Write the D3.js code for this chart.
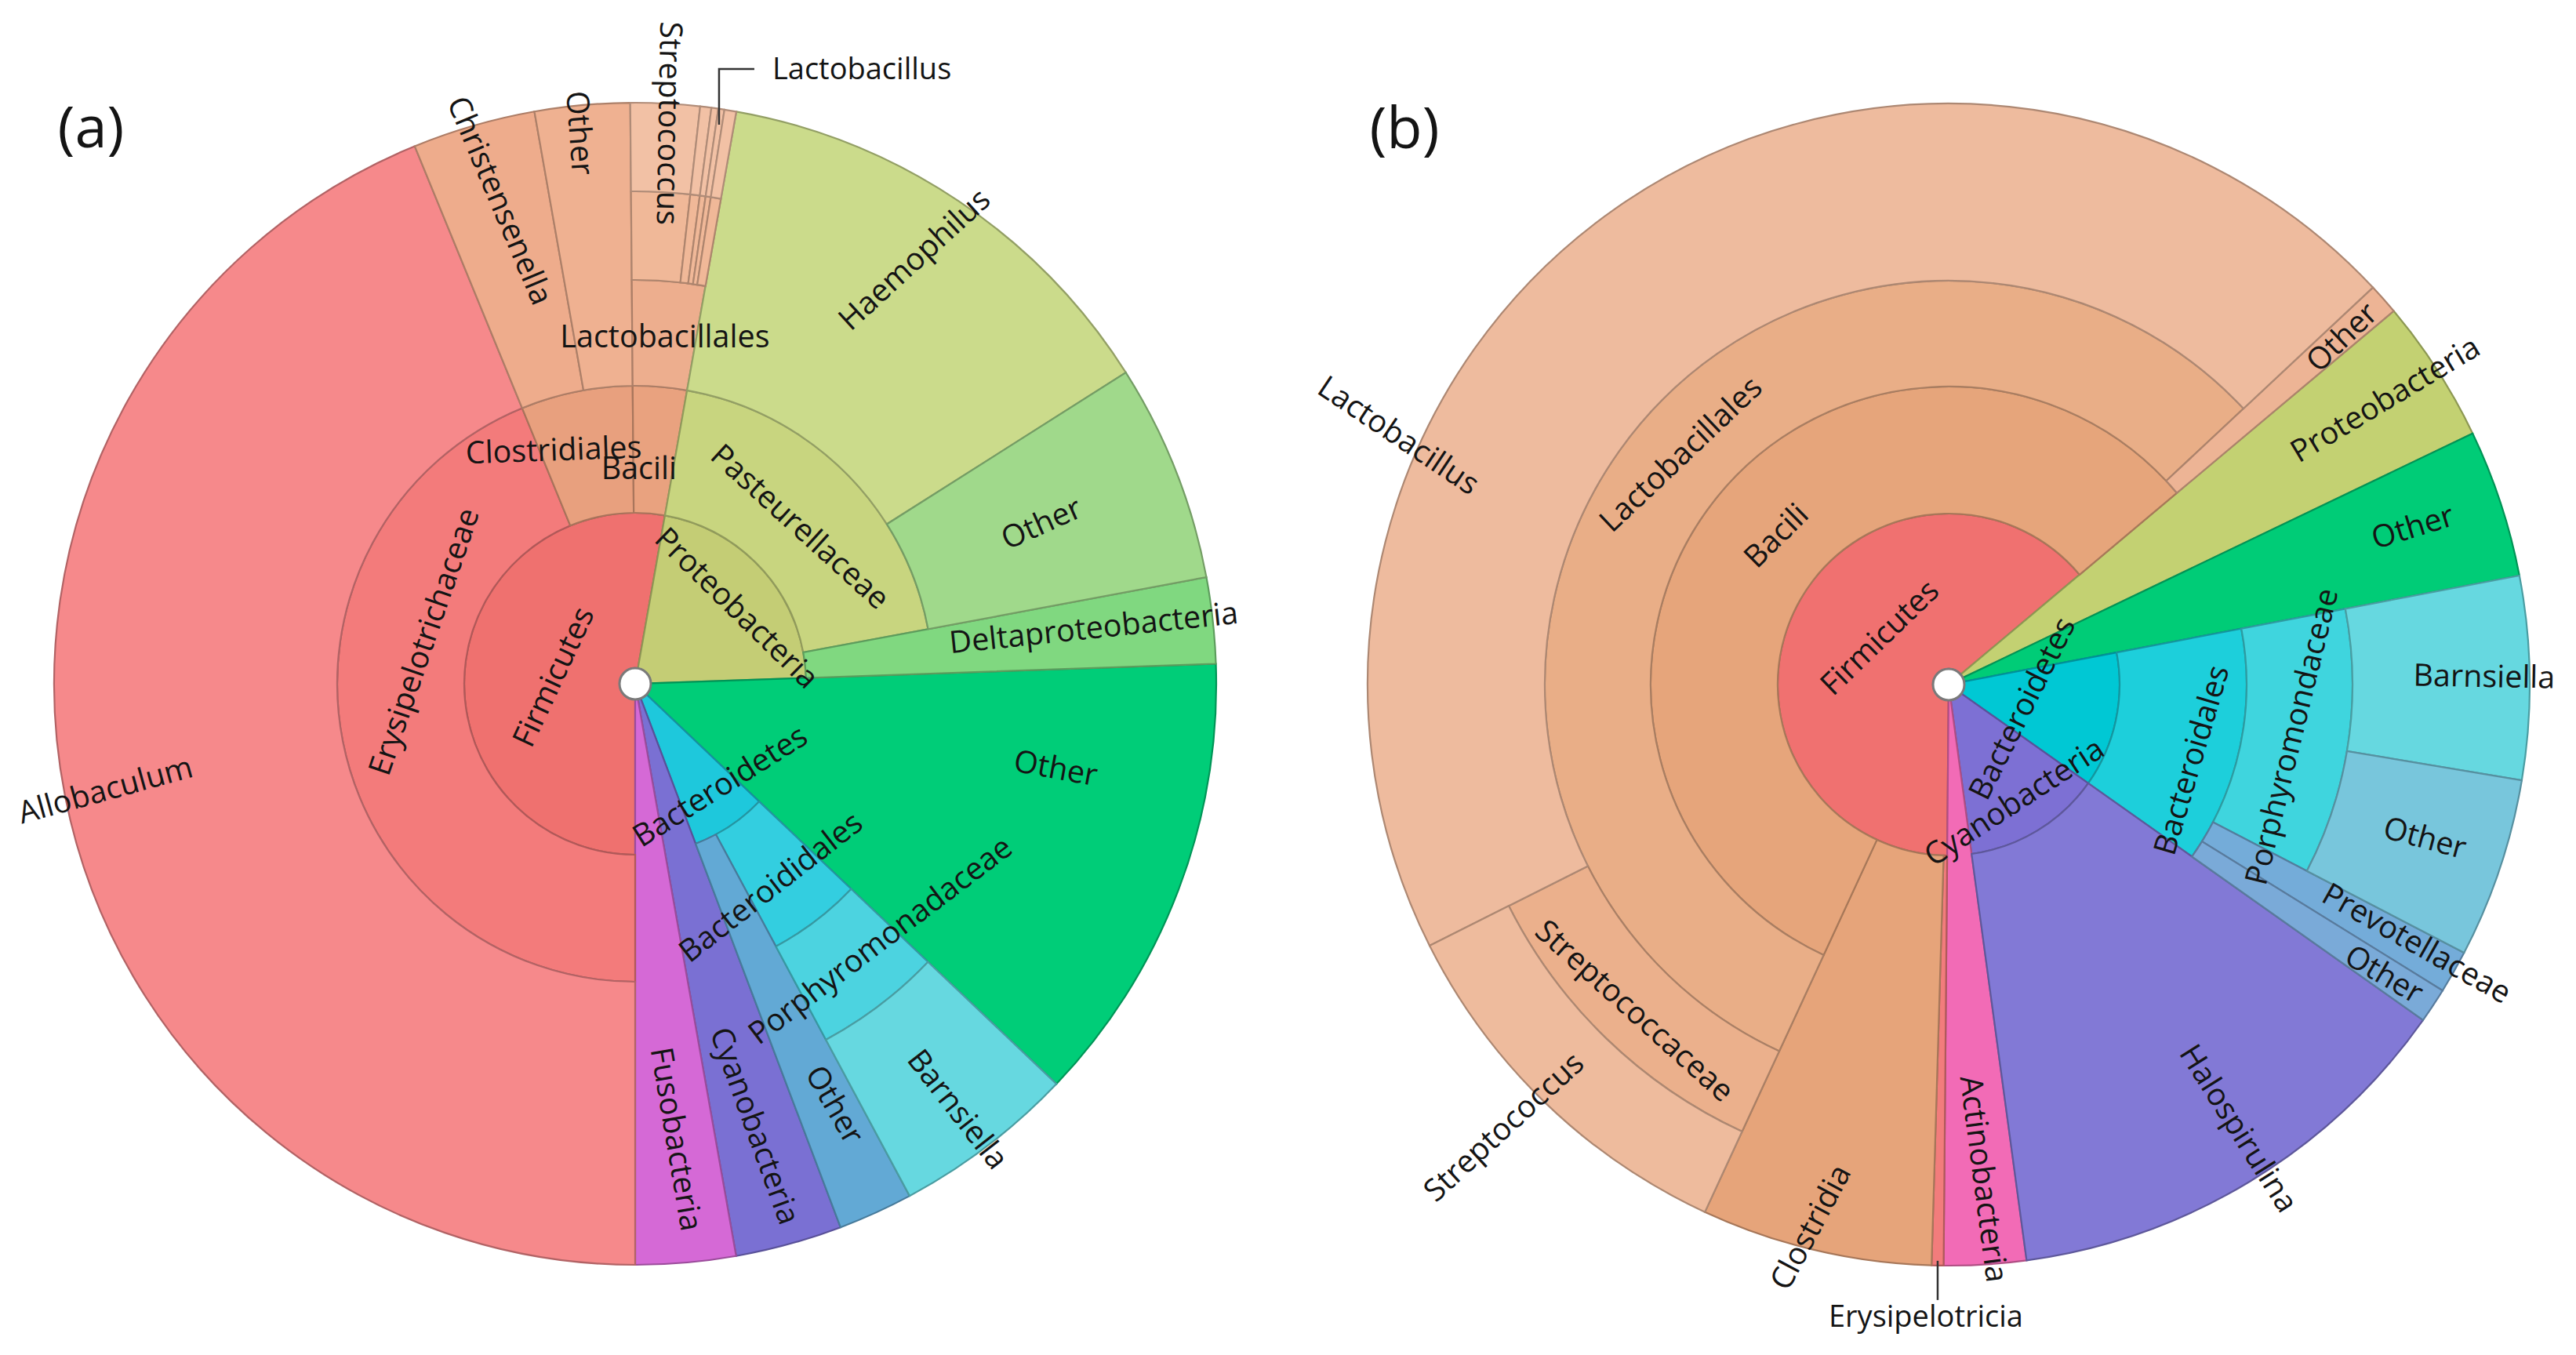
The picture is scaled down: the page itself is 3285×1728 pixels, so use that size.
<!DOCTYPE html>
<html>
<head>
<meta charset="utf-8">
<script src="https://cdn.jsdelivr.net/npm/d3@7"></script>
<style>
  body { margin: 0; background: #fff; }
  svg { display: block; }
  text { font-family: "Open Sans", sans-serif; fill: #141414; }
</style>
</head>
<body>
<div id="container"></div>
<script>
// taxonomy of each sample: id, parent, label, abundance (% of reads, leaves only)
// rows are listed clockwise, the way the wedges follow each other
const taxaA = [
  ["a", null, "", 0],
  ["aFirm", "a", "Firmicutes", 0],
  ["aEry", "aFirm", "Erysipelotrichaceae", 0],
  ["aAllo", "aEry", "Allobaculum", 43.81],
  ["aClos", "aFirm", "Clostridiales", 0],
  ["aChr", "aClos", "Christensenella", 3.42],
  ["aClosO", "aClos", "Other", 2.64],
  ["aBac", "aFirm", "Bacili", 0],
  ["aLacto", "aBac", "Lactobacillales", 0],
  ["aStrF", "aLacto", "", 0],
  ["aStr", "aStrF", "Streptococcus", 1.92],
  ["aF2", "aLacto", "", 0],
  ["aG2", "aF2", "", 0.31],
  ["aF3", "aLacto", "", 0],
  ["aG3", "aF3", "", 0.19],
  ["aLacF", "aLacto", "", 0],
  ["aLac", "aLacF", "Lactobacillus", 0.17],
  ["aF5", "aLacto", "", 0],
  ["aG5", "aF5", "", 0.33],
  ["aProt", "a", "Proteobacteria", 0],
  ["aPast", "aProt", "Pasteurellaceae", 0],
  ["aHaem", "aPast", "Haemophilus", 13.22],
  ["aPastO", "aPast", "Other", 6.06],
  ["aDelta", "aProt", "Deltaproteobacteria", 2.39],
  ["aOth", "a", "Other", 12.64],
  ["aBact", "a", "Bacteroidetes", 0],
  ["aBacd", "aBact", "Bacteroididales", 0],
  ["aPorph", "aBacd", "Porphyromonadaceae", 0],
  ["aBarn", "aPorph", "Barnsiella", 5.08],
  ["aBactO", "aBact", "Other", 2.08],
  ["aCyan", "a", "Cyanobacteria", 2.97],
  ["aFuso", "a", "Fusobacteria", 2.78]
];

const taxaB = [
  ["b", null, "", 0],
  ["bFirm", "b", "Firmicutes", 0],
  ["bEry", "bFirm", "Erysipelotricia", 0.33],
  ["bClos", "bFirm", "Clostridia", 6.42],
  ["bBac", "bFirm", "Bacili", 0],
  ["bLacto", "bBac", "Lactobacillales", 0],
  ["bStrF", "bLacto", "Streptococcaceae", 0],
  ["bStr", "bStrF", "Streptococcus", 10.69],
  ["bLac", "bLacto", "Lactobacillus", 45.44],
  ["bBacO", "bBac", "Other", 0.86],
  ["bProt", "b", "Proteobacteria", 4.0],
  ["bOth", "b", "Other", 4.11],
  ["bBact", "b", "Bacteroidetes", 0],
  ["bBacd", "bBact", "Bacteroidales", 0],
  ["bPorph", "bBacd", "Porphyromondaceae", 0],
  ["bBarn", "bPorph", "Barnsiella", 5.64],
  ["bPorO", "bPorph", "Other", 5.0],
  ["bPrev", "bBacd", "Prevotellaceae", 1.19],
  ["bBacdO", "bBacd", "Other", 0.97],
  ["bCyan", "b", "Cyanobacteria", 0],
  ["bHalo", "bCyan", "Halospirulina", 13.06],
  ["bActi", "b", "Actinobacteria", 2.28]
];

const panelTags = ["(a)", "(b)"];

// ---- styles -------------------------------------------------------------
const fills = {
  aFirm: "#ef716f", aEry: "#f37b7b", aAllo: "#f6898b",
  aClos: "#e8a07e", aChr: "#eeac8c", aClosO: "#efb191",
  aBac: "#e9a27f", aLacto: "#edae8e",
  aStrF: "#f0b898", aF2: "#f0b898", aF3: "#f0b898", aLacF: "#f0b898", aF5: "#f0b898",
  aStr: "#f2c1a5", aG2: "#f2c1a5", aG3: "#f2c1a5", aLac: "#f2c1a5", aG5: "#f2c1a5",
  aProt: "#c4cd75", aPast: "#c8d57f", aHaem: "#cbdb8b", aPastO: "#a0d98b", aDelta: "#80d880",
  aOth: "#00cd78",
  aBact: "#1ec8dc", aBacd: "#33cee0", aPorph: "#4cd3e0", aBarn: "#66d8e0", aBactO: "#62a9d5",
  aCyan: "#7a70d3", aFuso: "#d569d6",

  bFirm: "#f07170", bEry: "#f27c7c", bClos: "#e6a47a", bBac: "#e6a57b",
  bLacto: "#e9ae87", bStrF: "#ebb08c", bStr: "#eebb9d", bLac: "#eebb9e", bBacO: "#edb495",
  bProt: "#c3d172", bOth: "#00cc77",
  bBact: "#00c8d4", bBacd: "#1dcfdb", bPorph: "#3fd5de", bBarn: "#66d8e0", bPorO: "#78c6dc",
  bPrev: "#74acd9", bBacdO: "#7aaad8",
  bCyan: "#7d70d4", bHalo: "#8279d6", bActi: "#f26bb6"
};

// where each label sits: [angle (deg, clockwise from top), radius, rotation]
const labelsA = {
  aChr: [344.4, 640, 67], aClosO: [354.3, 706, 86], aStr: [3.5, 716, 91],
  aHaem: [33.3, 648, -42.5], aLacto: [4.9, 444, 0], aClos: [340.8, 316, -2],
  aBac: [1.0, 275, 0], aPast: [46.4, 291, 42.2], aPastO: [68.4, 557, -24],
  aDelta: [83, 589, -6], aProt: [53.3, 162, 44.4], aEry: [281.3, 275, -71],
  aFirm: [274.9, 105, -65], aAllo: [258.7, 689, -15.4], aOth: [101.3, 547, 10.5],
  aBact: [140.3, 169, -32.3], aBacd: [146.3, 311, -38], aPorph: [136.3, 452, -37.2],
  aBarn: [142.8, 681, 52], aBactO: [154.6, 594, 60], aCyan: [164.8, 584, 70],
  aFuso: [174.8, 583, 80.4]
};
const labelsB = {
  bLac: [294.4, 770, 33.9], bLacto: [310.7, 451, -43.4], bBac: [310.8, 291, -44.7],
  bFirm: [304.3, 107, -44], bBacO: [48.5, 669, -43.8], bProt: [56.8, 665, -31],
  bOth: [71.2, 625, -17], bBarn: [89.1, 683, 1], bPorO: [107.8, 638, 15.1],
  bPrev: [118.9, 682, 29.5], bBacdO: [123.6, 667, 30.3], bPorph: [98.6, 442, -76.2],
  bBacd: [107.3, 324, -73.6], bBact: [108, 98, -63.4], bCyan: [150.9, 171, -33.1],
  bHalo: [146.8, 676, 57.6], bActi: [175.9, 632, 82.6], bClos: [194.3, 714, -62],
  bStrF: [223.9, 577, 42], bStr: [225.2, 800, -42.5]
};

const width = 3285;
const height = 1728;
const rings = [20, 218, 380, 515, 628, 741];
const fontSize = 39.5;

const panels = [
  { taxa: taxaA, tag: panelTags[0], cx: 810, cy: 872, start: 180, labels: labelsA, callout: "aLac" },
  { taxa: taxaB, tag: panelTags[1], cx: 2485, cy: 873, start: 180.5, labels: labelsB, callout: "bEry" }
];

const svg = d3.create("svg")
  .attr("width", width)
  .attr("height", height)
  .attr("viewBox", [0, 0, width, height]);

svg.append("rect").attr("width", width).attr("height", height).attr("fill", "#fff");

const rad = d3.scaleLinear().domain(d3.range(rings.length)).range(rings);
const toRad = deg => deg * Math.PI / 180;

for (const p of panels) {
  const root = d3.stratify()
    .id(d => d[0])
    .parentId(d => d[1])(p.taxa)
    .sum(d => d[3]);
  d3.partition().size([1, 1])(root);

  const ang = d3.scaleLinear().domain([0, 1]).range([toRad(p.start), toRad(p.start + 360)]);
  const arc = d3.arc()
    .startAngle(d => ang(d.x0))
    .endAngle(d => ang(d.x1))
    .innerRadius(d => rad(d.depth - 1))
    .outerRadius(d => d.children ? rad(d.depth) : rad(rings.length - 1));

  const g = svg.append("g").attr("transform", `translate(${p.cx},${p.cy})`);

  g.append("g")
    .selectAll("path")
    .data(root.descendants().filter(d => d.depth > 0))
    .join("path")
    .attr("d", arc)
    .attr("fill", d => fills[d.id])
    .attr("stroke", d => d3.color(fills[d.id]).darker(0.9))
    .attr("stroke-width", 2.2);

  // hole in the middle
  g.append("circle").attr("r", rings[0]).attr("fill", "#fff").attr("stroke", "#7a7a7a").attr("stroke-width", 3);

  // wedge labels
  g.append("g")
    .selectAll("text")
    .data(root.descendants().filter(d => p.labels[d.id]))
    .join("text")
    .attr("transform", d => {
      const [a, r, rot] = p.labels[d.id];
      const x = r * Math.sin(toRad(a)), y = -r * Math.cos(toRad(a));
      return `translate(${x},${y}) rotate(${rot})`;
    })
    .attr("text-anchor", "middle")
    .attr("dy", "0.35em")
    .attr("font-size", fontSize)
    .text(d => d.data[2]);

  // callout for the tiny wedge
  const n = root.descendants().find(d => d.id === p.callout);
  const m = (ang(n.x0) + ang(n.x1)) / 2;
  if (p.callout === "aLac") {
    const r0 = rad(rings.length - 1) - 20;
    const x0 = r0 * Math.sin(m), y0 = -r0 * Math.cos(m);
    const yTop = -784;
    g.append("path")
      .attr("d", `M${x0},${y0}V${yTop}H${x0 + 45}`)
      .attr("fill", "none").attr("stroke", "#333").attr("stroke-width", 2.5);
    g.append("text")
      .attr("x", x0 + 68).attr("y", yTop).attr("dy", "0.35em")
      .attr("font-size", 38)
      .text(n.data[2]);
  } else {
    const r0 = rad(rings.length - 1) - 6;
    const x0 = r0 * Math.sin(m), y0 = -r0 * Math.cos(m);
    g.append("path")
      .attr("d", `M${x0},${y0}V${y0 + 50}`)
      .attr("fill", "none").attr("stroke", "#333").attr("stroke-width", 2.5);
    g.append("text")
      .attr("x", x0 - 15).attr("y", 806).attr("dy", "0.35em")
      .attr("text-anchor", "middle")
      .attr("font-size", 38)
      .text(n.data[2]);
  }

  // panel tag
  g.append("text")
    .attr("x", -694).attr("y", -710).attr("dy", "0.35em")
    .attr("text-anchor", "middle")
    .attr("font-size", 74)
    .text(p.tag);
}

d3.select("#container").node().append(svg.node());
</script>
</body>
</html>
